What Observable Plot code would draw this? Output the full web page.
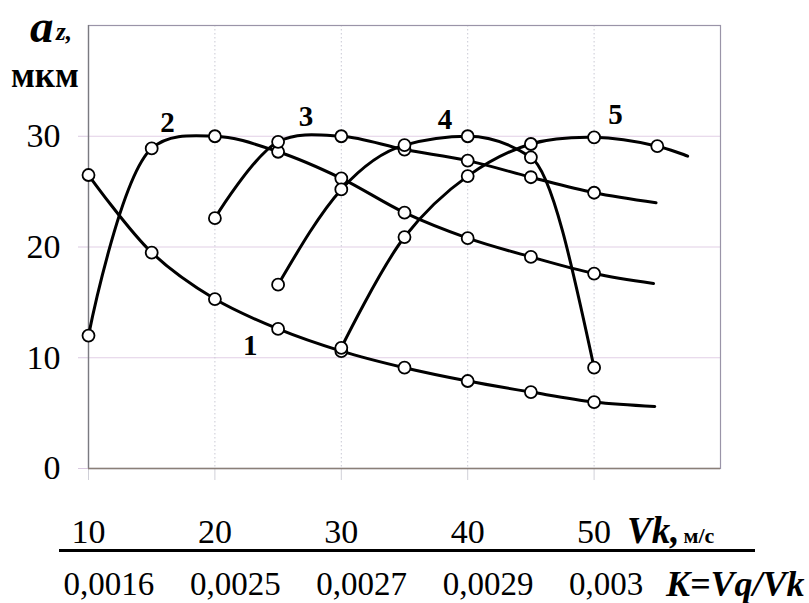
<!DOCTYPE html>
<html>
<head>
<meta charset="utf-8">
<script src="https://cdn.jsdelivr.net/npm/d3@7"></script>
<script src="https://cdn.jsdelivr.net/npm/@observablehq/plot@0.6"></script>
<style>
  html, body { margin: 0; padding: 0; background: #fff; }
  #wrap { position: relative; width: 809px; height: 603px; font-family: "Liberation Serif", "Times New Roman", serif; color: #000; }
  #wrap svg { position: absolute; left: 0; top: 0; }
  .ov { position: absolute; white-space: nowrap; line-height: 1; }
</style>
</head>
<body>
<div id="wrap"></div>
<script>
// ---- data ----
const vk = [10, 15, 20, 25, 30, 35, 40, 45, 50, 55];
const curve1 = [26.5, 19.5, 15.3, 12.6, 10.6, 9.1, 7.9, 6.9, 6.0, null];
const curve2 = [12.0, 28.9, 30.0, 28.6, 26.2, 23.1, 20.8, 19.1, 17.6, null];
const curve3 = [null, null, 22.6, 29.5, 30.0, 28.8, 27.8, 26.3, 24.9, null];
const curve4 = [null, null, null, 16.6, 25.2, 29.2, 30.0, 28.1, 9.1, null];
const curve5 = [null, null, null, null, 10.9, 20.9, 26.4, 29.3, 29.9, 29.1];
const curveNames = ["1", "2", "3", "4", "5"];
// where each drawn line ends beyond its last marker (no marker there)
const lineEndVk = [54.8, 54.7, 54.9, null, 57.4];
const lineEndAz = [5.6, 16.7, 24.0, null, 28.2];
// curve number labels
const labelVk = [22.8, 16.25, 27.2, 38.2, 51.7];
const labelAz = [11.1, 31.2, 31.8, 31.5, 31.9];
// axis ticks
const vkTicks = [10, 20, 30, 40, 50];
const kLabels = ["0,0016", "0,0025", "0,0027", "0,0029", "0,003"];
const azTicks = [0, 10, 20, 30];

// ---- build tables ----
const series = [curve1, curve2, curve3, curve4, curve5];
const dots = [];
const lines = [];
series.forEach((vals, s) => {
  vals.forEach((v, i) => {
    if (v != null) {
      dots.push({curve: curveNames[s], vk: vk[i], az: v});
      lines.push({curve: curveNames[s], vk: vk[i], az: v});
    }
  });
  if (lineEndVk[s] != null) lines.push({curve: curveNames[s], vk: lineEndVk[s], az: lineEndAz[s]});
});
const labels = curveNames.map((c, i) => ({curve: c, vk: labelVk[i], az: labelAz[i]}));

const FONT = "Liberation Serif";

const lineMarks = curveNames.map(c => Plot.line(lines.filter(d => d.curve === c), {
  x: "vk", y: "az",
  curve: c === "4" ? "monotone-x" : "catmull-rom",
  stroke: "#000", strokeWidth: 3
}));

const chart = Plot.plot({
  width: 809,
  height: 603,
  marginLeft: 88,
  marginRight: 89,
  marginTop: 25,
  marginBottom: 135,
  style: {fontFamily: FONT, background: "transparent", color: "#000"},
  x: {domain: [10, 60]},
  y: {domain: [0, 40]},
  marks: [
    Plot.gridY([10, 20, 30], {stroke: "#e2cfe6", strokeOpacity: 1, strokeWidth: 1.2}),
    Plot.gridX([20, 30, 40, 50], {stroke: "#c9c9d4", strokeOpacity: 1, strokeDasharray: "1.5,2.5"}),
    Plot.axisY({ticks: azTicks, tickSize: 10, tickPadding: 18, stroke: "#d9c9e0", fill: "#000", fontSize: 34, label: null, tickFormat: d => String(d)}),
    Plot.axisX({ticks: vkTicks, tickSize: 12, tickPadding: 38, stroke: "#d0d0d8", fill: "#000", fontSize: 34, label: null, tickFormat: d => String(d)}),
    Plot.axisX({ticks: vkTicks, tickSize: 0, tickPadding: 103, fill: "#000", fontSize: 33, label: null, tickFormat: (d, i) => kLabels[i], textAnchor: "start", dx: -25}),
    Plot.frame({stroke: "#9a94a8", strokeWidth: 1.2}),
    Plot.ruleX([10], {stroke: "#7a7a80", strokeWidth: 1.3}),
    Plot.ruleY([0], {stroke: "#8a7f78", strokeWidth: 1.5}),
    ...lineMarks,
    Plot.dot(dots, {x: "vk", y: "az", r: 6, fill: "#fff", stroke: "#000", strokeWidth: 1.8}),
    Plot.text(labels, {x: "vk", y: "az", text: "curve", fontSize: 29, fontWeight: "bold", fill: "#000"})
  ]
});

const wrap = document.getElementById("wrap");
wrap.appendChild(chart);

function ov(html, css) {
  const d = document.createElement("div");
  d.className = "ov";
  d.innerHTML = html;
  Object.assign(d.style, css);
  wrap.appendChild(d);
}
// y-axis title
ov("a", {left: "30px", top: "3px", fontSize: "47px", fontWeight: "bold", fontStyle: "italic"});
ov("z,", {left: "56px", top: "19px", fontSize: "25px", fontWeight: "bold", fontStyle: "italic"});
ov("мкм", {left: "11px", top: "58px", fontSize: "35px", fontWeight: "bold"});
// x-axis title
ov('<span style="font-size:37px;font-weight:bold;font-style:italic;">Vk,</span> <span style="font-size:22px;font-weight:bold;">м/с</span>', {left: "627px", top: "512px"});
// separator line
ov("", {left: "59px", top: "549px", width: "696px", height: "3px", background: "#000"});
// second axis title
ov("K=Vq/Vk", {left: "666px", top: "566px", fontSize: "36px", fontWeight: "bold", fontStyle: "italic"});
</script>
</body>
</html>
